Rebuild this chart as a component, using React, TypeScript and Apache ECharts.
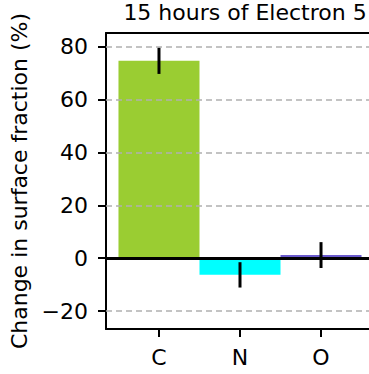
import React, { useEffect, useRef } from "react";
import * as echarts from "echarts";

const categories = ["C", "N", "O"];
const values = [74.8, -6.3, 1.2];
const errors = [5.0, 4.8, 4.9];
const barColors = ["#9acd32", "#00ffff", "#6a5acd"];
const yTicks = [-20, 0, 20, 40, 60, 80];
const gridLines = [-20, 20, 40, 60, 80];
const title = "15 hours of Electron 5";
const yName = "Change in surface fraction (%)";

const FONT = "DejaVu Sans";
const FS = 22;

export default function App() {
  const ref = useRef<HTMLDivElement>(null);
  useEffect(() => {
    if (!ref.current) return;
    const chart = echarts.init(ref.current, null, { renderer: "svg" });
    const xIdx = categories.map((_, i) => i);
    chart.setOption({
      animation: false,
      title: {
        text: title,
        left: 240,
        textAlign: "center",
        top: -4,
        textStyle: { fontFamily: FONT, fontSize: FS, fontWeight: "normal", color: "#000" },
      },
      grid: { left: 106, top: 33, width: 268, height: 296, containLabel: false },
      xAxis: [
        {
          type: "value",
          min: -0.654,
          max: 2.654,
          splitLine: { show: false },
          axisLine: { show: true, onZero: false, lineStyle: { color: "#000", width: 2 } },
          axisTick: { show: true, customValues: xIdx, length: 8, lineStyle: { color: "#000", width: 2 } },
          axisLabel: {
            customValues: xIdx,
            formatter: (v: number) => categories[Math.round(v)] ?? "",
            margin: 17,
            fontFamily: FONT,
            fontSize: FS,
            color: "#000",
          },
        },
        {
          type: "value",
          position: "top",
          min: -0.654,
          max: 2.654,
          splitLine: { show: false },
          axisLine: { show: true, onZero: false, lineStyle: { color: "#000", width: 2 } },
          axisTick: { show: false },
          axisLabel: { show: false },
        },
      ],
      yAxis: {
        type: "value",
        min: -26.8,
        max: 85.3,
        name: yName,
        nameLocation: "middle",
        nameGap: 73,
        nameTextStyle: { fontFamily: FONT, fontSize: FS, color: "#000" },
        splitLine: { show: false },
        axisLine: { show: true, onZero: false, lineStyle: { color: "#000", width: 2 } },
        axisTick: { show: true, customValues: yTicks, length: 8, lineStyle: { color: "#000", width: 2 } },
        axisLabel: {
          customValues: yTicks,
          formatter: (v: number) => (v < 0 ? "\u2212" + Math.abs(v) : String(v)),
          margin: 18,
          fontFamily: FONT,
          fontSize: FS,
          color: "#000",
        },
      },
      series: [
        {
          type: "line",
          data: [],
          z: 1,
          markLine: {
            silent: true,
            symbol: "none",
            label: { show: false },
            lineStyle: { color: "#b0b0b0", type: [6, 4], width: 1.5 },
            data: gridLines.map((v) => ({ yAxis: v })),
          },
        },
        {
          type: "custom",
          z: 2,
          data: values.map((v, i) => [i, v]),
          renderItem: (params: any, api: any) => {
            const x = api.value(0);
            const v = api.value(1);
            const p0 = api.coord([x - 0.5, 0]);
            const p1 = api.coord([x + 0.5, v]);
            return {
              type: "rect",
              shape: {
                x: p0[0],
                y: Math.min(p0[1], p1[1]),
                width: p1[0] - p0[0],
                height: Math.abs(p1[1] - p0[1]),
              },
              style: { fill: barColors[params.dataIndex] },
            };
          },
        },
        {
          type: "line",
          data: [],
          z: 3,
          markLine: {
            silent: true,
            symbol: "none",
            label: { show: false },
            lineStyle: { color: "#000", type: "solid", width: 3 },
            data: [{ yAxis: 0 }],
          },
        },
        {
          type: "custom",
          z: 4,
          data: values.map((v, i) => [i, v, errors[i]]),
          renderItem: (params: any, api: any) => {
            const x = api.value(0);
            const v = api.value(1);
            const e = api.value(2);
            const a = api.coord([x, v - e]);
            const b = api.coord([x, v + e]);
            return {
              type: "line",
              shape: { x1: a[0], y1: a[1], x2: b[0], y2: b[1] },
              style: { stroke: "#000", lineWidth: 3 },
            };
          },
        },
      ],
    });
    return () => chart.dispose();
  }, []);
  return (
    <div style={{ position: "fixed", left: 0, top: 0, width: 369, height: 374, overflow: "hidden", background: "#fff" }}>
      <div ref={ref} style={{ width: 390, height: 374 }} />
    </div>
  );
}
